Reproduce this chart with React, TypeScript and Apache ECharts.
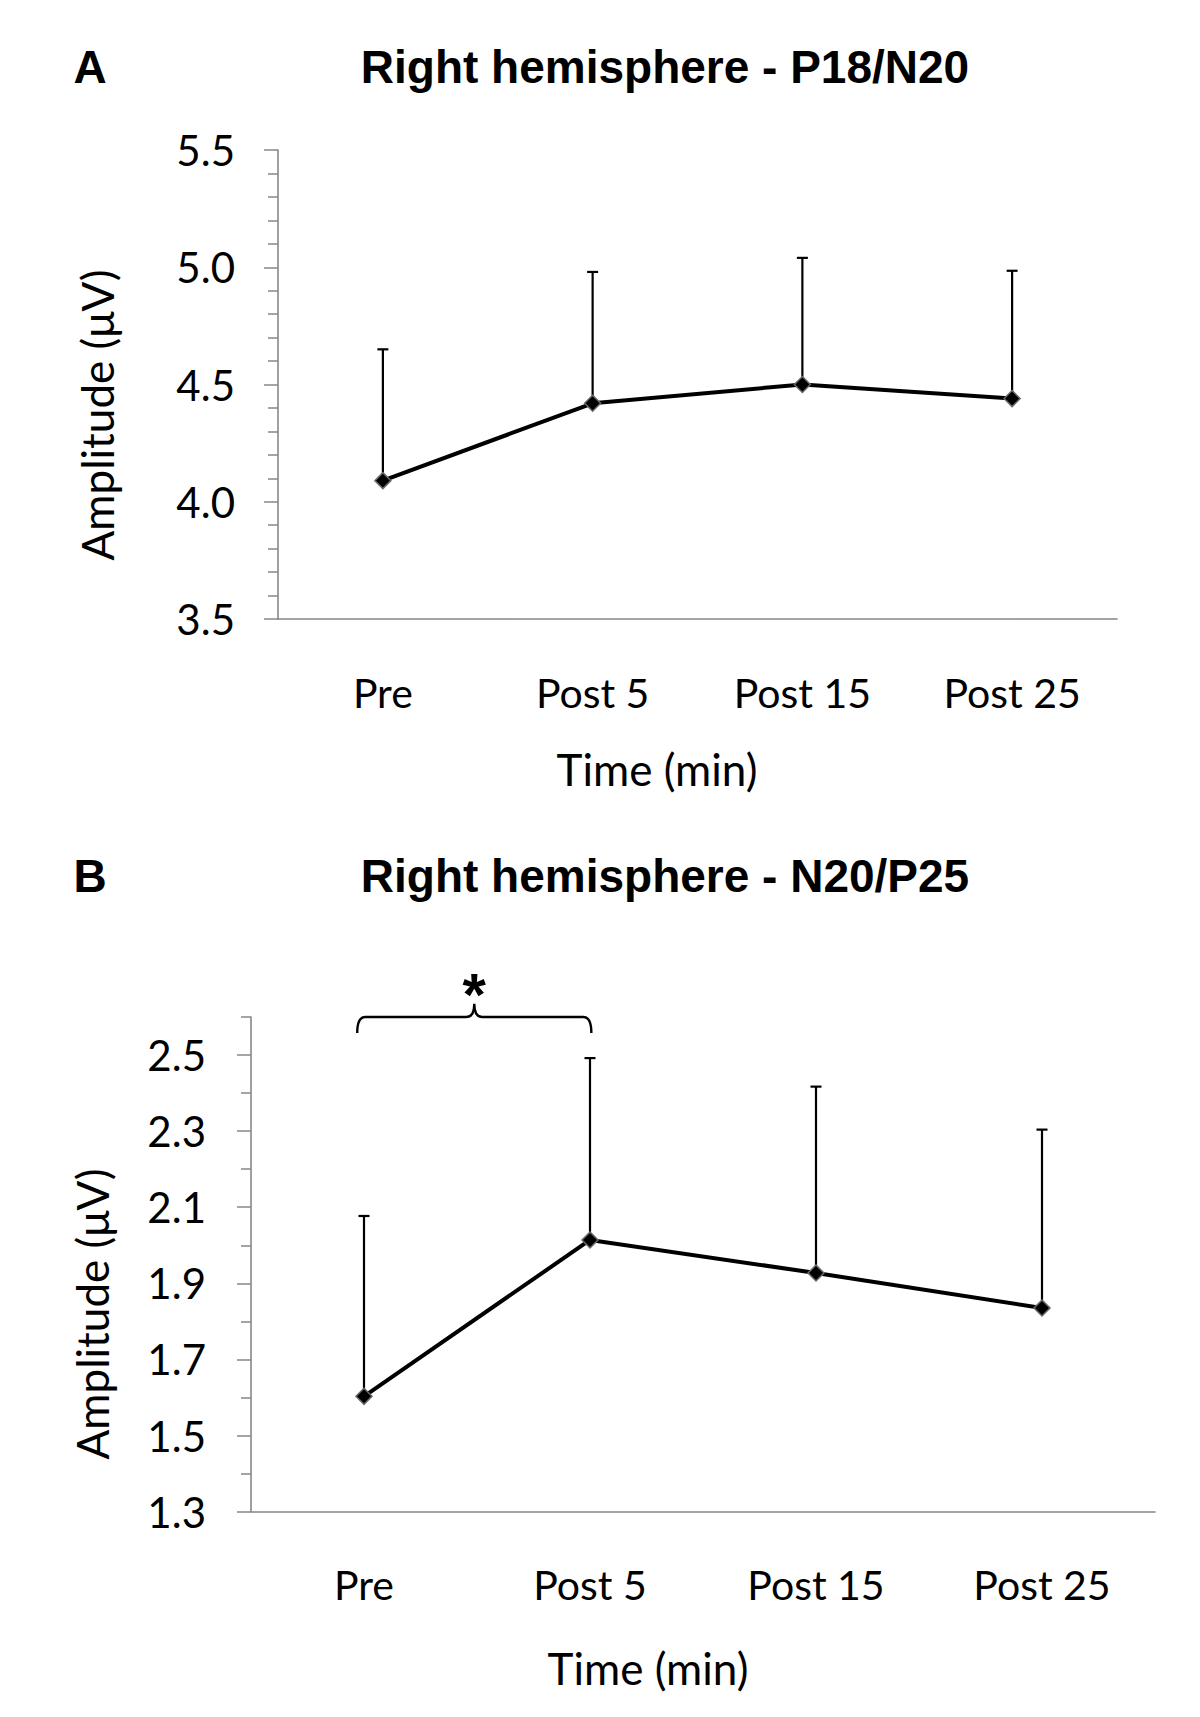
import React, { useEffect, useRef } from "react";
import * as echarts from "echarts";

// ---------- data ----------
const CATEGORIES = ["Pre", "Post 5", "Post 15", "Post 25"];

// Panel A: Right hemisphere - P18/N20
const A_MEAN = [4.09, 4.42, 4.5, 4.44];
const A_UPPER = [4.65, 4.98, 5.04, 4.985];
const A_Y_MIN = 3.5;
const A_Y_MAX = 5.5;
const A_Y_STEP = 0.5;

// Panel B: Right hemisphere - N20/P25
const B_MEAN = [1.603, 2.014, 1.927, 1.835];
const B_UPPER = [2.077, 2.492, 2.417, 2.304];
const B_Y_MIN = 1.3;
const B_Y_MAX = 2.6;
const B_Y_LABELS = [1.3, 1.5, 1.7, 1.9, 2.1, 2.3, 2.5];
const B_Y_MINOR = [1.4, 1.6, 1.8, 2.0, 2.2, 2.4, 2.6];

// significance bracket (Pre vs Post 5)
const SIG_PAIR = [0, 1];
const BRACE_LEVEL = 2.6;
const BRACE_END = 2.558;
const BRACE_PEAK = 2.635;

const TITLES = ["Right hemisphere - P18/N20", "Right hemisphere - N20/P25"];
const PANEL_LETTERS = ["A", "B"];
const X_NAME = "Time (min)";
const Y_NAME = "Amplitude (μV)";

// ---------- style ----------
const AXIS_COLOR = "#878787";
const LABEL_FONT = "Lato, 'Noto Sans', sans-serif";
const TITLE_FONT = "'Liberation Sans', Arial, sans-serif";

const errorRender = (params: any, api: any) => {
  const x = api.value(0);
  const m = api.value(1);
  const u = api.value(2);
  const p0 = api.coord([x, m]);
  const p1 = api.coord([x, u]);
  const style = { stroke: "#000", lineWidth: 2.2 };
  return {
    type: "group",
    children: [
      { type: "line", shape: { x1: p0[0], y1: p0[1], x2: p1[0], y2: p1[1] }, style },
      { type: "line", shape: { x1: p1[0] - 5.5, y1: p1[1], x2: p1[0] + 5.5, y2: p1[1] }, style },
    ],
  };
};

const xAxisBase = (gridIndex: number) => ({
  type: "category",
  gridIndex,
  data: CATEGORIES,
  boundaryGap: true,
  axisLine: { show: true, lineStyle: { color: AXIS_COLOR, width: 1.6 } },
  axisTick: { show: false },
  splitLine: { show: false },
  axisLabel: {
    margin: 73,
    verticalAlign: "middle",
    fontSize: 41,
    fontFamily: LABEL_FONT,
    color: "#000",
  },
});

const lineSeries = (idx: number, data: number[]) => ({
  type: "line",
  xAxisIndex: idx,
  yAxisIndex: idx,
  data,
  symbol: "diamond",
  symbolSize: 16,
  itemStyle: { color: "#000", borderColor: "#6a6a6a", borderWidth: 1.5 },
  lineStyle: { color: "#000", width: 4 },
  z: 4,
  silent: true,
});

const errSeries = (idx: number, mean: number[], upper: number[]) => ({
  type: "custom",
  xAxisIndex: idx,
  yAxisIndex: idx,
  renderItem: errorRender,
  encode: { x: 0, y: [1, 2] },
  data: CATEGORIES.map((_, i) => [i, mean[i], upper[i]]),
  z: 2,
  silent: true,
});

export default function App() {
  const ref = useRef<HTMLDivElement>(null);

  useEffect(() => {
    if (!ref.current) return;
    const chart = echarts.init(ref.current, null, { renderer: "svg" });

    const option: any = {
      animation: false,
      backgroundColor: "#fff",
      grid: [
        { left: 278, top: 150, width: 839, height: 469, containLabel: false },
        { left: 251, top: 1017, width: 904, height: 494.6, containLabel: false },
      ],
      xAxis: [xAxisBase(0), xAxisBase(1)],
      yAxis: [
        {
          type: "value",
          gridIndex: 0,
          min: A_Y_MIN,
          max: A_Y_MAX,
          interval: A_Y_STEP,
          axisLine: { show: true, lineStyle: { color: AXIS_COLOR, width: 1.6 } },
          axisTick: { show: true, length: 14, lineStyle: { color: AXIS_COLOR, width: 1.5 } },
          minorTick: { show: true, splitNumber: 5, length: 10, lineStyle: { color: AXIS_COLOR, width: 1.5 } },
          splitLine: { show: false },
          minorSplitLine: { show: false },
          axisLabel: {
            formatter: (v: number) => v.toFixed(1),
            margin: 43,
            fontSize: 42,
            fontFamily: LABEL_FONT,
            color: "#000",
          },
        },
        {
          type: "value",
          gridIndex: 1,
          position: "left",
          min: B_Y_MIN,
          max: B_Y_MAX,
          axisLine: { show: true, lineStyle: { color: AXIS_COLOR, width: 1.6 } },
          axisTick: {
            show: true,
            length: 14,
            customValues: B_Y_LABELS,
            lineStyle: { color: AXIS_COLOR, width: 1.5 },
          },
          splitLine: { show: false },
          axisLabel: {
            customValues: B_Y_LABELS,
            formatter: (v: number) => v.toFixed(1),
            margin: 45,
            fontSize: 42,
            fontFamily: LABEL_FONT,
            color: "#000",
          },
        },
        {
          type: "value",
          gridIndex: 1,
          position: "left",
          offset: 0,
          min: B_Y_MIN,
          max: B_Y_MAX,
          axisLine: { show: false },
          axisTick: {
            show: true,
            length: 10,
            customValues: B_Y_MINOR,
            lineStyle: { color: AXIS_COLOR, width: 1.5 },
          },
          splitLine: { show: false },
          axisLabel: { show: false, customValues: B_Y_MINOR },
        },
      ],
      series: [
        errSeries(0, A_MEAN, A_UPPER),
        lineSeries(0, A_MEAN),
        errSeries(1, B_MEAN, B_UPPER),
        lineSeries(1, B_MEAN),
      ],
    };
    chart.setOption(option);

    // annotations: titles, axis names, significance brace
    const p0 = chart.convertToPixel({ xAxisIndex: 1, yAxisIndex: 1 }, [SIG_PAIR[0], BRACE_LEVEL]) as number[];
    const p1 = chart.convertToPixel({ xAxisIndex: 1, yAxisIndex: 1 }, [SIG_PAIR[1], BRACE_LEVEL]) as number[];
    const yEnd = chart.convertToPixel({ yAxisIndex: 1 }, BRACE_END) as number;
    const yPeak = chart.convertToPixel({ yAxisIndex: 1 }, BRACE_PEAK) as number;
    const span = p1[0] - p0[0];
    const L = p0[0] - 0.03 * span;
    const R = p1[0] + 0.006 * span;
    const M = (L + R) / 2;
    const yL = p0[1];
    const r = 8;
    const d =
      `M${L},${yEnd} Q${L},${yL} ${L + r},${yL} L${M - r},${yL} ` +
      `Q${M},${yL} ${M},${yPeak} Q${M},${yL} ${M + r},${yL} ` +
      `L${R - r},${yL} Q${R},${yL} ${R},${yEnd}`;
    echarts.graphic.registerShape("sigBrace", echarts.graphic.extendPath(d, {}) as any);

    const titleText = (text: string, x: number, y: number) => ({
      type: "text",
      x,
      y,
      style: {
        text,
        fontSize: 46,
        fontWeight: "bold",
        fontFamily: TITLE_FONT,
        fill: "#000",
        align: "center",
        verticalAlign: "middle",
      },
    });
    const axisText = (text: string, x: number, y: number, rotate = 0) => ({
      type: "text",
      x,
      y,
      rotation: rotate,
      style: {
        text,
        fontSize: 44,
        fontFamily: LABEL_FONT,
        fill: "#000",
        align: "center",
        verticalAlign: "middle",
      },
    });

    chart.setOption({
      graphic: [
        titleText(PANEL_LETTERS[0], 90, 67),
        titleText(TITLES[0], 665, 67),
        titleText(PANEL_LETTERS[1], 90, 876),
        titleText(TITLES[1], 665, 876),
        axisText(Y_NAME, 97, 415, Math.PI / 2),
        axisText(X_NAME, 657, 769),
        axisText(Y_NAME, 92, 1314, Math.PI / 2),
        axisText(X_NAME, 648, 1668),
        {
          type: "sigBrace",
          x: 0,
          y: 0,
          style: { stroke: "#000", lineWidth: 2.4, fill: null },
        },
        {
          type: "text",
          x: M,
          y: yPeak - 9,
          style: {
            text: "*",
            fontSize: 60,
            fontWeight: "bold",
            fontFamily: TITLE_FONT,
            fill: "#000",
            align: "center",
            verticalAlign: "middle",
          },
        },
      ],
    });

    return () => chart.dispose();
  }, []);

  return (
    <div
      ref={ref}
      style={{ position: "absolute", left: 0, top: 0, width: 1200, height: 1717, background: "#fff" }}
    />
  );
}
